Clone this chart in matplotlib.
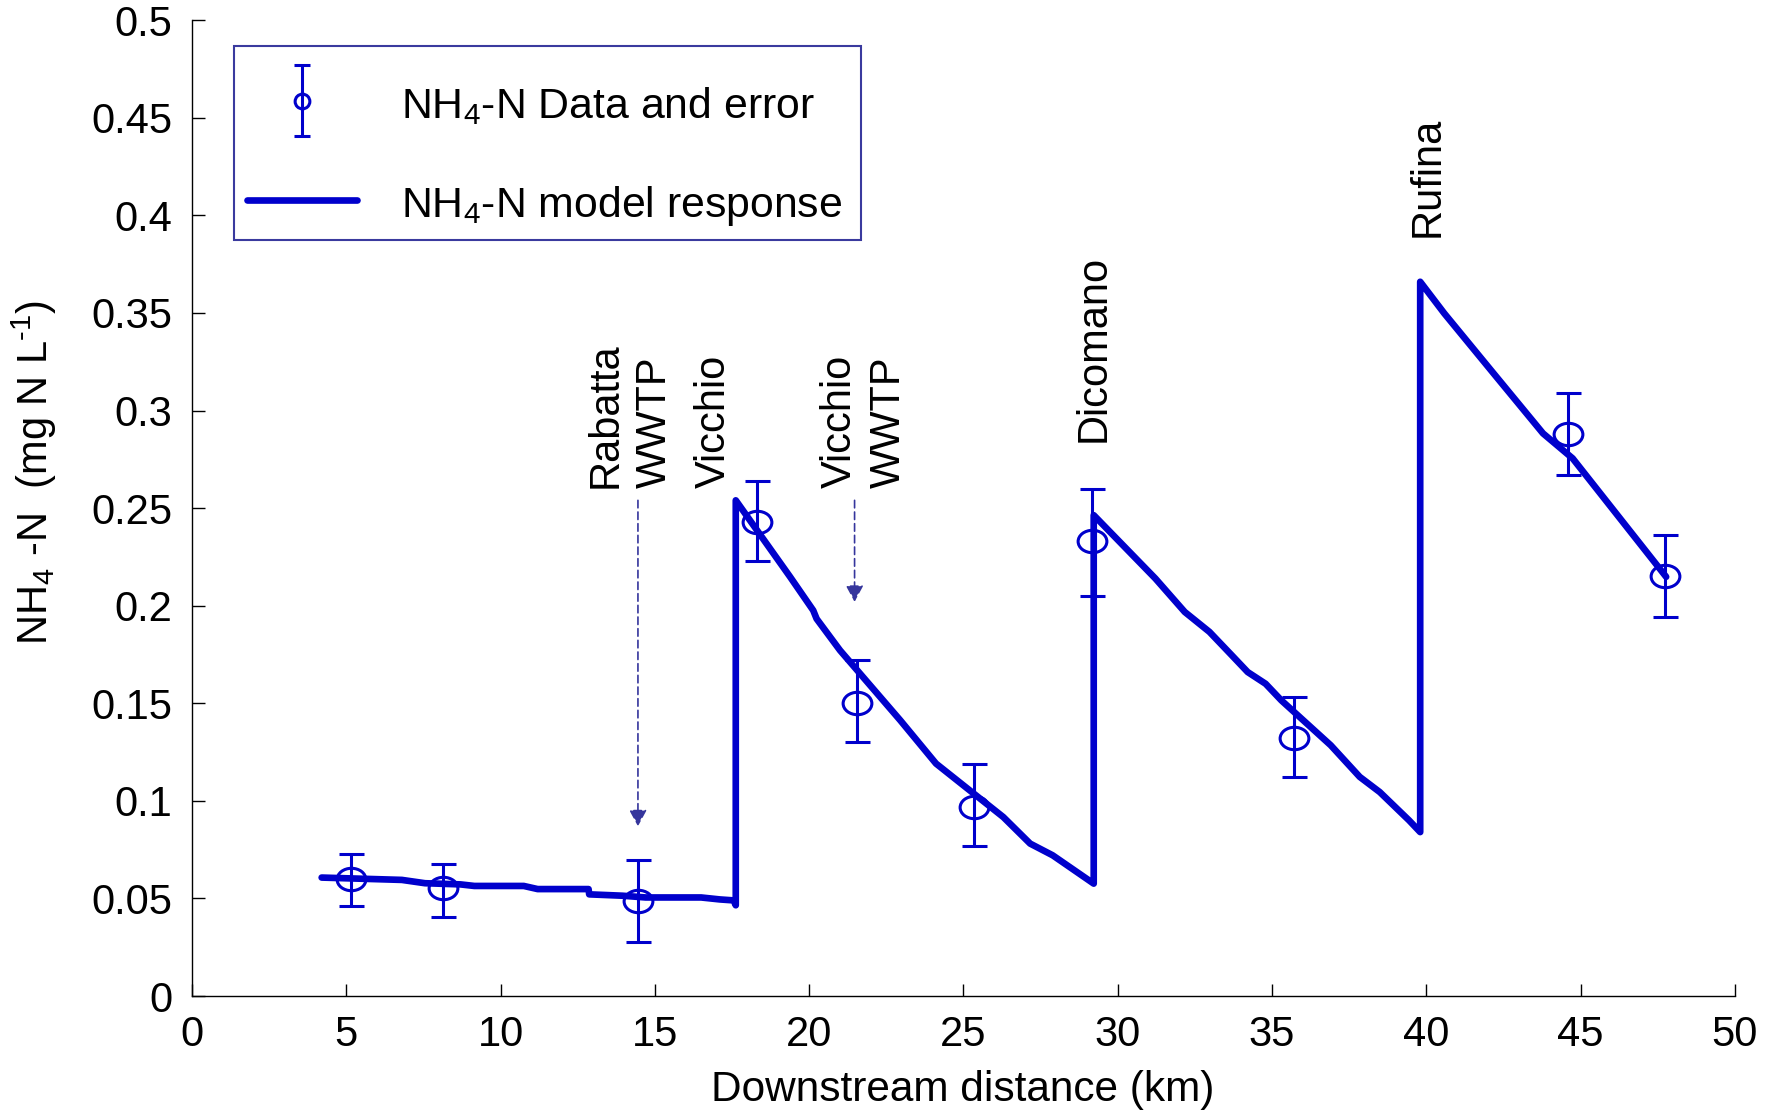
import numpy as np
import matplotlib
matplotlib.use('Agg')
import matplotlib.pyplot as plt
import matplotlib.transforms as mtransforms
from matplotlib.path import Path
from matplotlib.lines import Line2D
from matplotlib.patches import Rectangle
from matplotlib.container import ErrorbarContainer
from matplotlib.legend_handler import HandlerErrorbar

# ---- observed data ----
obs_km = [5.16, 8.12, 14.45, 18.32, 21.54, 25.35, 29.15, 35.70, 44.59, 47.73]
obs_val = [0.060, 0.0556, 0.0486, 0.243, 0.150, 0.097, 0.233, 0.132, 0.288, 0.215]
err_lo = [0.014, 0.015, 0.021, 0.020, 0.020, 0.020, 0.028, 0.020, 0.021, 0.021]
err_hi = [0.013, 0.012, 0.021, 0.021, 0.022, 0.022, 0.027, 0.021, 0.021, 0.021]

# ---- model response ----
model_km = [4.2, 6.8, 7.55, 8.7, 9.15, 10.75, 11.2, 12.85, 12.87, 13.95, 14.7,
            16.5, 17.1, 17.55, 17.62, 17.62, 19.38, 20.13, 20.24, 21.0, 22.95,
            24.11, 26.29, 27.16, 27.89, 29.22, 29.22, 31.22, 32.17, 32.97,
            33.70, 34.21, 34.79, 35.3, 36.9, 37.84, 38.49, 39.44, 39.8, 39.8,
            40.58, 42.18, 43.78, 44.74, 47.77]
model_val = [0.0607, 0.0595, 0.0578, 0.0572, 0.0564, 0.0564, 0.0548, 0.0548,
             0.0521, 0.0514, 0.0505, 0.0505, 0.0495, 0.049, 0.0465, 0.254,
             0.2148, 0.1976, 0.1933, 0.1771, 0.1413, 0.1191, 0.0917, 0.0781,
             0.0721, 0.0576, 0.2464, 0.2139, 0.1968, 0.1866, 0.1745, 0.166,
             0.160, 0.1515, 0.1285, 0.1123, 0.1045, 0.090, 0.084, 0.366,
             0.3498, 0.319, 0.2883, 0.2755, 0.2148]

# ---- site labels ----
site_names = ["Rabatta\nWWTP", "Vicchio", "Vicchio\nWWTP", "Dicomano", "Rufina"]
site_km = [14.21, 16.92, 21.78, 29.21, 40.05]
site_y = [0.2604, 0.2604, 0.2604, 0.284, 0.389]
arrow_km = [14.45, 21.47]
arrow_top = [0.254, 0.254]
arrow_tip = [0.087, 0.202]

x_ticks = [0, 5, 10, 15, 20, 25, 30, 35, 40, 45, 50]
y_ticks = [0, 0.05, 0.1, 0.15, 0.2, 0.25, 0.3, 0.35, 0.4, 0.45, 0.5]

legend_labels = ['NH$_4$-N Data and error', 'NH$_4$-N model response']

blue = '#0000cc'
acol = '#35359c'
frame_col = '#3a3a9e'

plt.rcParams['font.family'] = ['Liberation Sans', 'DejaVu Sans']
plt.rcParams['mathtext.fontset'] = 'custom'
plt.rcParams['mathtext.rm'] = 'Liberation Sans'
plt.rcParams['mathtext.it'] = 'Liberation Sans:italic'
plt.rcParams['mathtext.bf'] = 'Liberation Sans:bold'
plt.rcParams['font.size'] = 30

W, H = 1770, 1113
fig = plt.figure(figsize=(W / 100, H / 100), dpi=100)
ax_rect = [0.1085, 0.1051, 0.8717, 0.8767]
ax = fig.add_axes(ax_rect)
ax_w_px = ax_rect[2] * W
ax_h_px = ax_rect[3] * H

circ = Path.unit_circle()
verts = circ.vertices.copy()
verts[:, 1] *= 0.78
ell = Path(verts, circ.codes)

eb = ax.errorbar(obs_km, obs_val, yerr=[err_lo, err_hi], marker=ell,
                 mfc='none', mec=blue, ms=20.7, mew=2.2, linestyle='none',
                 ecolor=blue, elinewidth=2.2, capsize=9, capthick=2.4,
                 zorder=3)
ln, = ax.plot(model_km, model_val, color=blue, lw=4.8, zorder=4,
              solid_joinstyle='round', solid_capstyle='round')

for name, xk, yk in zip(site_names, site_km, site_y):
    ax.text(xk, yk, name, rotation=90, ha='center', va='bottom',
            multialignment='left', fontsize=30, linespacing=1.3)

for xk, yt, tip in zip(arrow_km, arrow_top, arrow_tip):
    ax.annotate('', xy=(xk, tip), xytext=(xk, yt),
                arrowprops=dict(arrowstyle='-|>,head_length=0.5,head_width=0.27',
                                linestyle=(0, (4.5, 2.5)), color=acol, lw=1.2,
                                mutation_scale=20, shrinkA=0, shrinkB=0))

ax.set_xlim(0, 50)
ax.set_ylim(0, 0.5)
ax.set_xticks(x_ticks)
ax.set_yticks(y_ticks)
ax.set_xticklabels(['%g' % v for v in x_ticks])
ax.set_yticklabels(['%g' % v for v in y_ticks])
ax.tick_params(direction='in', length=9, width=1, pad=14, labelsize=30)
for s in ['top', 'right']:
    ax.spines[s].set_visible(False)
for s in ['left', 'bottom']:
    ax.spines[s].set_linewidth(1)

fig.text(963 / W, 1 - 1090 / H, 'Downstream distance (km)',
         ha='center', va='center', fontsize=30.5)
fig.text(34 / W, 1 - 472 / H, r'NH$_4$ -N  (mg N L$^{\text{-1}}$)',
         ha='center', va='center', rotation=90, fontsize=30)


class SmallErrHandler(HandlerErrorbar):
    def create_artists(self, *args, **kwargs):
        arts = super().create_artists(*args, **kwargs)
        for a in arts:
            if isinstance(a, Line2D):
                m = a.get_marker()
                if isinstance(m, str) and m == '_':
                    a.set_markersize(11.5)
                elif isinstance(m, Path):
                    a.set_marker('o')
                    a.set_markersize(10.6)
                    a.set_markeredgewidth(2.2)
        return arts


# legend frame (box)
bx0 = (233.7 - 192) / ax_w_px
by1 = (996 - 46.3) / ax_h_px
bx1 = (861.3 - 192) / ax_w_px
by0 = (996 - 240.4) / ax_h_px
ax.add_patch(Rectangle((bx0, by0), bx1 - bx0, by1 - by0, transform=ax.transAxes,
                       facecolor='white', edgecolor=frame_col, lw=1.5,
                       zorder=4.9, clip_on=False))

anchor = [0.03, 0.95]
leg = ax.legend([eb, ln], legend_labels, loc='upper left',
                bbox_to_anchor=tuple(anchor), borderaxespad=0, frameon=False,
                handlelength=2.65, handletextpad=1.05, borderpad=0.0,
                labelspacing=1.03, handleheight=1.7, fontsize=30,
                handler_map={ErrorbarContainer: SmallErrHandler(yerr_size=0.85)})
leg.set_zorder(5)

# align the legend's line handle with the reference position
fig.canvas.draw()
h = leg.legend_handles[1]
px = h.get_transform().transform((h.get_xdata()[0], h.get_ydata()[0]))
target = (246.7, H - 200.0)
anchor[0] += (target[0] - px[0]) / ax_w_px
anchor[1] += (target[1] - px[1]) / ax_h_px
leg.set_bbox_to_anchor(tuple(anchor), transform=ax.transAxes)
for t in leg.get_texts():
    t.set_fontsize(30.8)
    t.set_transform(t.get_transform() + mtransforms.Affine2D().translate(0, 4))

fig.savefig('out.png', dpi=100)
